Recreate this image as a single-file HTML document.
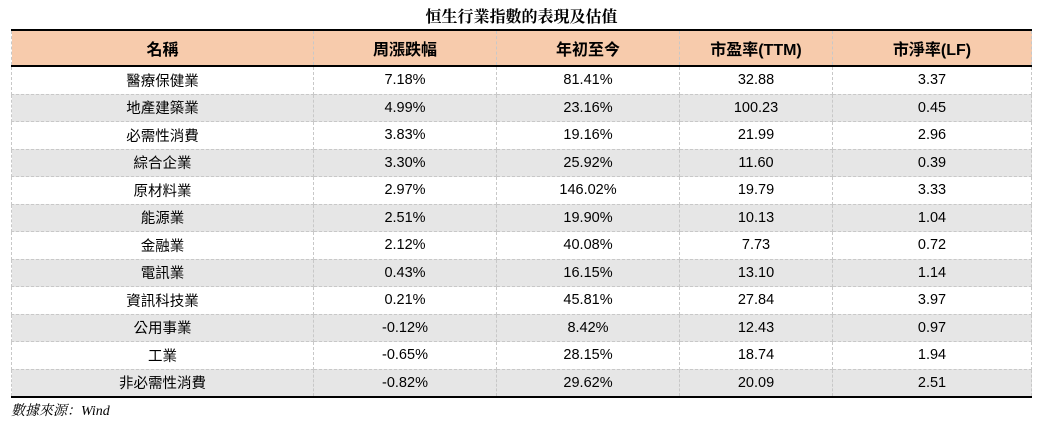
<!DOCTYPE html>
<html><head><meta charset="utf-8"><style>
body{margin:0;background:#fff;width:1043px;height:428px;position:relative;font-family:"Liberation Sans","Noto Sans CJK TC",sans-serif;overflow:hidden}
.title{position:absolute;top:4px;left:0;width:1043px;text-align:center;font-family:"Liberation Serif","Noto Serif CJK SC",serif;font-weight:bold;font-size:16px;color:#000}
table{position:absolute;left:11px;top:29px;border-collapse:collapse;table-layout:fixed;width:1020px}
td,th{text-align:center;font-size:14.5px;color:#000;padding:0;border-left:1px dashed #c8c8c8;border-right:1px dashed #c8c8c8}
th{background:#f7cbac;height:34px;font-weight:bold;font-size:16px;border-top:2px solid #000;border-bottom:2px solid #000}
td{height:26.5px;border-bottom:1px dashed #c8c8c8}
tr.g td{background:#e6e6e6}
tr:last-child td{border-bottom:2px solid #000}
.src{position:absolute;left:11px;top:400px;font-style:italic;font-size:14px;font-family:"Liberation Serif","Noto Serif CJK SC",serif}
</style></head><body>
<div class="title">恒生行業指數的表現及估值</div>
<table>
<colgroup><col style="width:302px"><col style="width:183px"><col style="width:183px"><col style="width:153px"><col style="width:199px"></colgroup>
<tr><th>名稱</th><th>周漲跌幅</th><th>年初至今</th><th>市盈率(TTM)</th><th>市淨率(LF)</th></tr>
<tr><td>醫療保健業</td><td>7.18%</td><td>81.41%</td><td>32.88</td><td>3.37</td></tr>
<tr class="g"><td>地產建築業</td><td>4.99%</td><td>23.16%</td><td>100.23</td><td>0.45</td></tr>
<tr><td>必需性消費</td><td>3.83%</td><td>19.16%</td><td>21.99</td><td>2.96</td></tr>
<tr class="g"><td>綜合企業</td><td>3.30%</td><td>25.92%</td><td>11.60</td><td>0.39</td></tr>
<tr><td>原材料業</td><td>2.97%</td><td>146.02%</td><td>19.79</td><td>3.33</td></tr>
<tr class="g"><td>能源業</td><td>2.51%</td><td>19.90%</td><td>10.13</td><td>1.04</td></tr>
<tr><td>金融業</td><td>2.12%</td><td>40.08%</td><td>7.73</td><td>0.72</td></tr>
<tr class="g"><td>電訊業</td><td>0.43%</td><td>16.15%</td><td>13.10</td><td>1.14</td></tr>
<tr><td>資訊科技業</td><td>0.21%</td><td>45.81%</td><td>27.84</td><td>3.97</td></tr>
<tr class="g"><td>公用事業</td><td>-0.12%</td><td>8.42%</td><td>12.43</td><td>0.97</td></tr>
<tr><td>工業</td><td>-0.65%</td><td>28.15%</td><td>18.74</td><td>1.94</td></tr>
<tr class="g"><td>非必需性消費</td><td>-0.82%</td><td>29.62%</td><td>20.09</td><td>2.51</td></tr>
</table>
<div class="src">數據來源：Wind</div>
</body></html>
